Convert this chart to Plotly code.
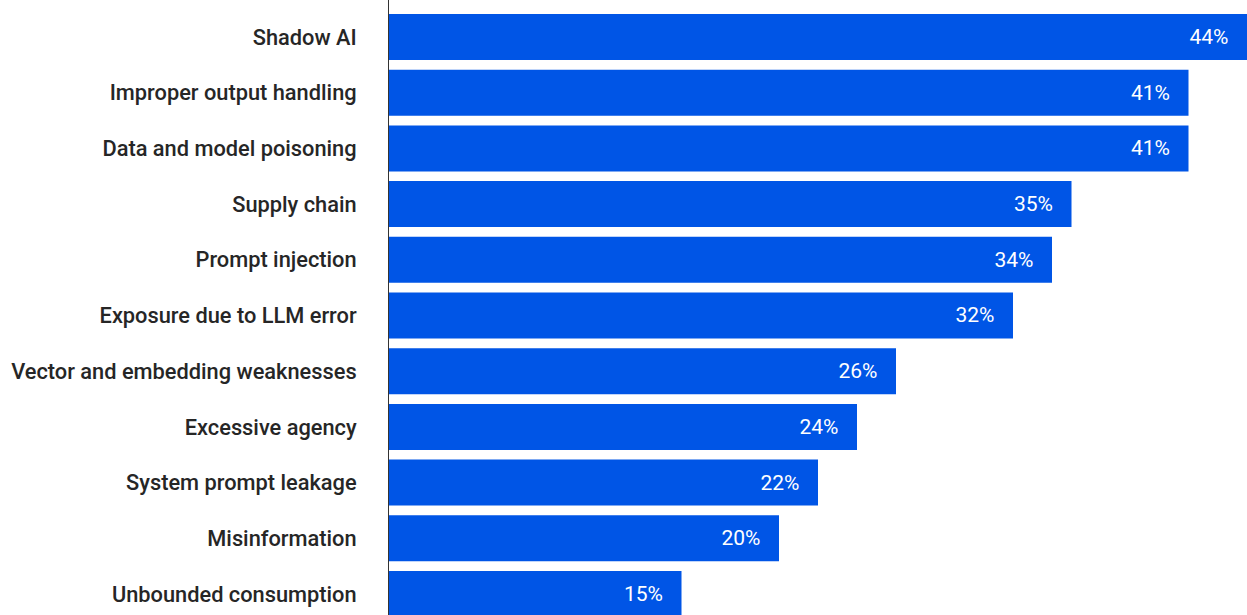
import plotly.graph_objects as go

# Share of respondents citing each GenAI security risk (%)
risks = [
    "Shadow AI",
    "Improper output handling",
    "Data and model poisoning",
    "Supply chain",
    "Prompt injection",
    "Exposure due to LLM error",
    "Vector and embedding weaknesses",
    "Excessive agency",
    "System prompt leakage",
    "Misinformation",
    "Unbounded consumption",
]
shares = [44, 41, 41, 35, 34, 32, 26, 24, 22, 20, 15]

# Plotly draws the first category at the bottom, so reverse for top-down order
cats = risks[::-1]
vals = shares[::-1]
labels = [f"{v}%\u00a0\u00a0\u00a0" for v in vals]

fig = go.Figure(
    go.Bar(
        x=vals,
        y=cats,
        orientation="h",
        marker=dict(color="#0055E6", line=dict(width=0)),
        text=labels,
        textposition="inside",
        insidetextanchor="end",
        textangle=0,
        textfont=dict(family="Roboto", size=21, color="#FFFFFF"),
        cliponaxis=False,
        hoverinfo="skip",
    )
)

fig.update_layout(
    width=1247,
    height=615,
    margin=dict(l=389, r=0, t=0, b=0),
    paper_bgcolor="#FFFFFF",
    plot_bgcolor="#FFFFFF",
    bargap=0.174,
    showlegend=False,
    uniformtext=dict(minsize=21, mode="show"),
    font=dict(family="Roboto", size=21, color="#222222"),
)

fig.update_xaxes(
    range=[0, 44],
    showgrid=False,
    zeroline=False,
    showticklabels=False,
    showline=False,
    ticks="",
)

fig.update_yaxes(
    range=[-0.377, 10.664],
    showgrid=False,
    zeroline=False,
    showline=True,
    linecolor="#333333",
    linewidth=1,
    ticks="",
    ticklabelstandoff=27,
    tickfont=dict(family="Roboto", size=21.8, color="#262626", weight=500),
)

fig.write_html("out.html")
